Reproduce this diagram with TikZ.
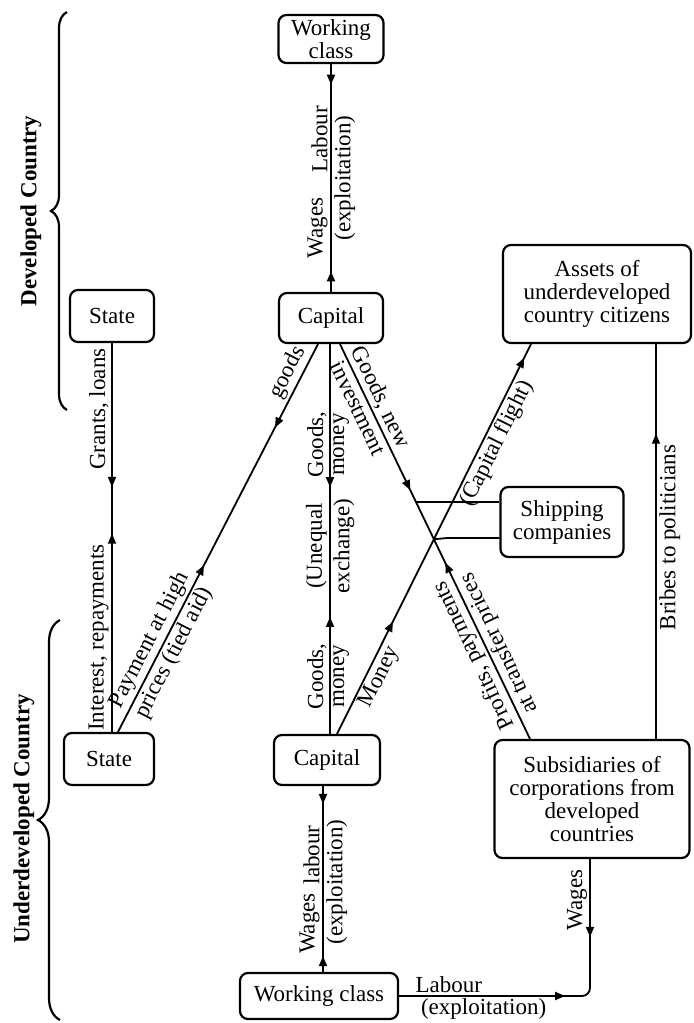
\documentclass[tikz,border=0pt]{standalone}
\usepackage{fontspec}
\setmainfont{Liberation Serif}
\usetikzlibrary{arrows.meta,decorations.markings,decorations.pathreplacing,calc,intersections}
\newcommand\labfont{\fontsize{11.5}{11.5}\selectfont}
\begin{document}
\begin{tikzpicture}[x=0.5pt,y=-0.5pt,
  >={Triangle[length=5pt,width=4pt]},
  box/.style={draw, line width=1.1pt, rounded corners=4pt, align=center, inner sep=0pt, font=\labfont},
  conn/.style={line width=0.9pt},
  fwd/.style={postaction={decorate,decoration={markings,mark=at position #1 with {\arrow{>}}}}},
  bwd/.style={postaction={decorate,decoration={markings,mark=at position #1 with {\arrowreversed{>}}}}},
  lbl/.style={font=\labfont, inner sep=1.2pt},
  cbrace/.style={decorate, decoration={brace, amplitude=#1}, line width=1.1pt},
  side/.style={font=\bfseries\labfont, rotate=90}
]
\useasboundingbox (0,0) rectangle (694,1023);

% boxes
\node[box, minimum width=52.5pt, minimum height=24pt, font=\fontsize{11.5}{10}\selectfont] (wcTop) at (331,39) {Working\\class};
\node[box, minimum width=52pt, minimum height=25pt] (capTop) at (331,318) {Capital};
\node[box, minimum width=42pt, minimum height=26pt] (stTop) at (112,316) {State};
\node[box, minimum width=94pt, minimum height=49pt] (assets) at (597,294) {Assets of\\underdeveloped\\country citizens};
\node[box, minimum width=61.5pt, minimum height=35pt] (ship) at (562,522) {Shipping\\companies};
\node[box, minimum width=45pt, minimum height=26pt] (stBot) at (109,759) {State};
\node[box, minimum width=53pt, minimum height=25pt] (capBot) at (327,760) {Capital};
\node[box, minimum width=97.5pt, minimum height=59pt] (subs) at (592,799) {Subsidiaries of\\corporations from\\developed\\countries};
\node[box, minimum width=79pt, minimum height=23pt] (wcBot) at (319,996) {Working class};

% braces
\draw[cbrace=8pt] (67,410) -- (67,12);
\node[side] (dev) at (31,211) {Developed Country};
\draw[cbrace=11pt] (60,1020) -- (60,620);
\node[side] (und) at (24,819) {Underdeveloped Country};

% top capital - working class
\draw[conn, fwd=0.09, bwd=0.91] (wcTop.south) -- (capTop.north)
  node[lbl, pos=0.33, rotate=90, anchor=south] (l1) {Labour}
  node[lbl, pos=0.72, rotate=90, anchor=south] (l2) {Wages}
  node[lbl, pos=0.5, rotate=90, anchor=north] (l3) {(exploitation)};

% states
\draw[conn, fwd=0.37, bwd=0.49] (stTop.south) -- (stTop.south |- stBot.north)
  node[lbl, pos=0.17, rotate=90, anchor=south] (l4) {Grants, loans}
  node[lbl, pos=0.757, rotate=90, anchor=south] (l5) {Interest, repayments};

% state (UDC) - capital (DC)
\draw[conn, bwd=0.785, fwd=0.43] ([xshift=4.5pt]stBot.north) -- ([xshift=-6.5pt]capTop.south)
  node[lbl, pos=0.91, sloped, above] (l6) {goods}
  node[lbl, pos=0.22, sloped, above] (l7) {Payment at high}
  node[lbl, pos=0.22, sloped, below] (l8) {prices (tied aid)};

% capital - capital
\draw[conn, fwd=0.367, bwd=0.70] ([xshift=-0.5pt]capTop.south) -- ([xshift=1.5pt]capBot.north)
  node[lbl, pos=0.258, rotate=90, anchor=south] (l9) {Goods,}
  node[lbl, pos=0.258, rotate=90, anchor=north] (l10) {money}
  node[lbl, pos=0.518, rotate=90, anchor=south] (l11) {(Unequal}
  node[lbl, pos=0.518, rotate=90, anchor=north] (l12) {exchange)}
  node[lbl, pos=0.852, rotate=90, anchor=south] (l13) {Goods,}
  node[lbl, pos=0.852, rotate=90, anchor=north] (l14) {money};

% capital (DC) - subsidiaries
\draw[conn, name path=e5, fwd=0.37, bwd=0.554] ([xshift=4.5pt]capTop.south) -- ([xshift=-31pt]subs.north)
  coordinate[pos=0.4005] (shA)
  node[lbl, pos=0.15, sloped, above] (l15) {Goods, new}
  node[lbl, pos=0.15, sloped, below] (l16) {investment}
  node[lbl, pos=0.773, rotate=115.6, anchor=south] (l17) {Profits, payments}
  node[lbl, pos=0.773, rotate=115.6, anchor=north] (l18) {at transfer prices};

% capital (UDC) - assets
\draw[conn, name path=e6, fwd=0.288, fwd=0.965] ([xshift=5pt]capBot.north) -- ([xshift=-33pt]assets.south)
  node[lbl, pos=0.16, sloped, below] (l19) {Money}
  node[lbl, pos=0.76, sloped, below] (l20) {(Capital flight)};

\path[name intersections={of=e5 and e6, by=cr}];

% shipping companies
\draw[conn] (shA) -- (shA -| ship.west);
\draw[conn] ([yshift=-8pt]ship.west) -- ++(-26pt,0) -- (cr);

% subsidiaries - assets
\draw[conn, fwd=0.773] ([xshift=32pt]subs.north) -- ([xshift=32pt]subs.north |- assets.south)
  node[lbl, pos=0.51, rotate=90, anchor=north] (l21) {Bribes to politicians};

% capital (UDC) - working class
\draw[conn, fwd=0.096, bwd=0.915] ([xshift=-2pt]capBot.south) -- ([xshift=2pt]wcBot.north)
  node[lbl, pos=0.74, rotate=90, anchor=south] (l22) {Wages}
  node[lbl, pos=0.37, rotate=90, anchor=south] (l23) {labour}
  node[lbl, pos=0.516, rotate=90, anchor=north] (l24) {(exploitation)};

% subsidiaries - working class
\coordinate (sb) at ([xshift=-1pt]subs.south);
\coordinate (cor) at (sb |- wcBot.east);
\draw[conn, rounded corners=4pt, fwd=0.24, bwd=0.488] (sb) -- (cor) -- (wcBot.east);
\node[lbl, rotate=90, anchor=south] (l25) at ($(sb)!0.3!(cor)$) {Wages};
\node[lbl, anchor=south] (l26) at ($(cor)!0.74!(wcBot.east)$) {Labour};
\node[lbl, anchor=north] (l27) at ($(cor)!0.557!(wcBot.east)$) {(exploitation)};
\end{tikzpicture}
\end{document}
